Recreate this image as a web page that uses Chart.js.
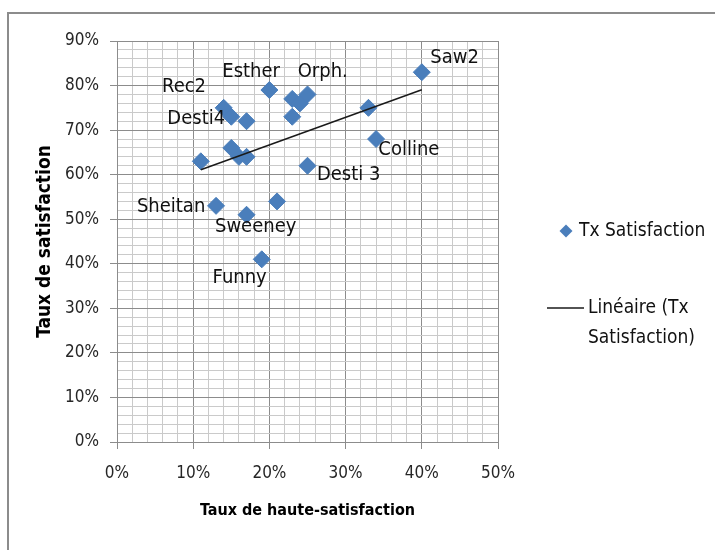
<!DOCTYPE html>
<html>
<head>
<meta charset="utf-8">
<script src="https://cdn.jsdelivr.net/npm/chart.js@4"></script>
<style>
  body { margin: 0; background: #fff; overflow: hidden; }
</style>
</head>
<body>
<canvas id="chart" width="715" height="550"></canvas>
<script>
// taux de haute-satisfaction (%) et taux de satisfaction (%) par film
const hauteSatisfaction = [40, 34, 33, 25, 23, 24, 25, 23, 20, 14, 15, 17, 15, 16, 17, 11, 13, 17, 21, 19];
const satisfaction      = [83, 68, 75, 62, 77, 76, 78, 73, 79, 75, 73, 72, 66, 64, 64, 63, 53, 51, 54, 41];

// étiquettes des films (placées en coordonnées du graphique)
const labelNames = ['Saw2', 'Orph.', 'Esther', 'Rec2', 'Desti4', 'Colline', 'Desti 3', 'Sheitan', 'Sweeney', 'Funny'];
const labelX     = [44.3, 27.0, 17.6, 8.8, 10.4, 38.3, 30.4, 7.1, 18.2, 16.1];
const labelY     = [86.3, 83.1, 83.1, 79.7, 72.5, 65.5, 59.9, 52.7, 48.2, 36.9];

const seriesName = 'Tx Satisfaction';
const trendName = ['Linéaire (Tx', 'Satisfaction)'];

const FONT = "'DejaVu Sans Condensed', 'Liberation Sans Narrow', sans-serif";
const BLUE = '#4a7ebb';

// droite de tendance linéaire (moindres carrés, comme Excel)
function trendLine(xs, ys) {
  const n = xs.length;
  const mx = xs.reduce((a, b) => a + b, 0) / n;
  const my = ys.reduce((a, b) => a + b, 0) / n;
  let sxy = 0, sxx = 0;
  for (let i = 0; i < n; i++) {
    sxy += (xs[i] - mx) * (ys[i] - my);
    sxx += (xs[i] - mx) * (xs[i] - mx);
  }
  const a = sxy / sxx, b = my - a * mx;
  const x0 = Math.min(...xs), x1 = Math.max(...xs);
  return [{ x: x0, y: a * x0 + b }, { x: x1, y: a * x1 + b }];
}

const points = hauteSatisfaction.map((x, i) => ({ x, y: satisfaction[i] }));

const isMajor = v => Math.round(v) % 10 === 0;
const gridColor = c => (c.tick && isMajor(c.tick.value)) ? '#8c8c8c' : '#cacaca';
const tickColor = c => (c.tick && isMajor(c.tick.value)) ? '#8c8c8c' : 'rgba(0,0,0,0)';
const pct = v => isMajor(v) ? v + '%' : '';

const framePlugin = {
  id: 'frame',
  beforeDraw(chart) {
    const ctx = chart.ctx;
    ctx.save();
    ctx.fillStyle = '#fff';
    ctx.fillRect(0, 0, chart.width, chart.height);
    ctx.strokeStyle = '#8c8c8c';
    ctx.lineWidth = 2;
    ctx.beginPath();
    ctx.moveTo(8, 560);
    ctx.lineTo(8, 13);
    ctx.lineTo(720, 13);
    ctx.stroke();
    ctx.restore();
  }
};

const labelPlugin = {
  id: 'filmLabels',
  afterDatasetsDraw(chart) {
    const { ctx, scales: { x, y } } = chart;
    ctx.save();
    ctx.font = '20px ' + FONT;
    ctx.fillStyle = '#111';
    ctx.textAlign = 'center';
    ctx.textBaseline = 'middle';
    labelNames.forEach((name, i) => {
      ctx.fillText(name, x.getPixelForValue(labelX[i]), y.getPixelForValue(labelY[i]));
    });
    ctx.restore();
  }
};

const legendPlugin = {
  id: 'sideLegend',
  afterDraw(chart) {
    const ctx = chart.ctx;
    const left = chart.chartArea.right;
    ctx.save();
    ctx.font = '19px ' + FONT;
    ctx.fillStyle = '#111';
    ctx.textBaseline = 'middle';
    // marqueur de la série
    const mx = left + 68, my = 231;
    ctx.fillStyle = BLUE;
    ctx.beginPath();
    ctx.moveTo(mx, my - 6.5);
    ctx.lineTo(mx + 6.5, my);
    ctx.lineTo(mx, my + 6.5);
    ctx.lineTo(mx - 6.5, my);
    ctx.closePath();
    ctx.fill();
    ctx.fillStyle = '#111';
    ctx.fillText(seriesName, left + 81, my);
    // droite de tendance
    ctx.strokeStyle = '#1a1a1a';
    ctx.lineWidth = 1.5;
    ctx.beginPath();
    ctx.moveTo(left + 49, 308);
    ctx.lineTo(left + 86, 308);
    ctx.stroke();
    ctx.fillText(trendName[0], left + 90, 308);
    ctx.fillText(trendName[1], left + 90, 338);
    ctx.restore();
  }
};

new Chart(document.getElementById('chart'), {
  data: {
    datasets: [
      {
        type: 'line',
        label: trendName.join(' '),
        data: trendLine(hauteSatisfaction, satisfaction),
        borderColor: '#1a1a1a',
        borderWidth: 1.5,
        pointRadius: 0,
        fill: false,
        order: 0
      },
      {
        type: 'scatter',
        label: seriesName,
        data: points,
        pointStyle: 'rectRot',
        pointRadius: 8.5,
        backgroundColor: BLUE,
        borderColor: BLUE,
        borderWidth: 1,
        order: 1
      }
    ]
  },
  options: {
    responsive: false,
    animation: false,
    layout: { padding: { top: 41, right: 217, bottom: 0, left: 0 } },
    plugins: { legend: { display: false }, tooltip: { enabled: false } },
    scales: {
      x: {
        type: 'linear',
        min: 0,
        max: 50,
        afterFit: s => { s.height = 108; },
        ticks: {
          stepSize: 2, autoSkip: false, maxRotation: 0, padding: 14,
          color: '#262626', font: { family: FONT, size: 17 }, callback: pct
        },
        grid: { color: gridColor, tickColor: tickColor, tickLength: 7 },
        border: { color: '#8c8c8c' },
        title: {
          display: true, text: 'Taux de haute-satisfaction', color: '#000',
          font: { family: FONT, size: 16, weight: 'bold' }, padding: { top: 0, bottom: 30 }
        }
      },
      y: {
        type: 'linear',
        min: 0,
        max: 90,
        afterFit: s => { s.width = 117; },
        ticks: {
          stepSize: 2, autoSkip: false, padding: 11,
          color: '#262626', font: { family: FONT, size: 17 }, callback: pct
        },
        grid: { color: gridColor, tickColor: tickColor, tickLength: 7 },
        border: { color: '#8c8c8c' },
        title: {
          display: true, text: 'Taux de satisfaction', color: '#000',
          font: { family: FONT, size: 19, weight: 'bold' }, padding: { top: 34, bottom: 0 }
        }
      }
    }
  },
  plugins: [framePlugin, labelPlugin, legendPlugin]
});
</script>
</body>
</html>
